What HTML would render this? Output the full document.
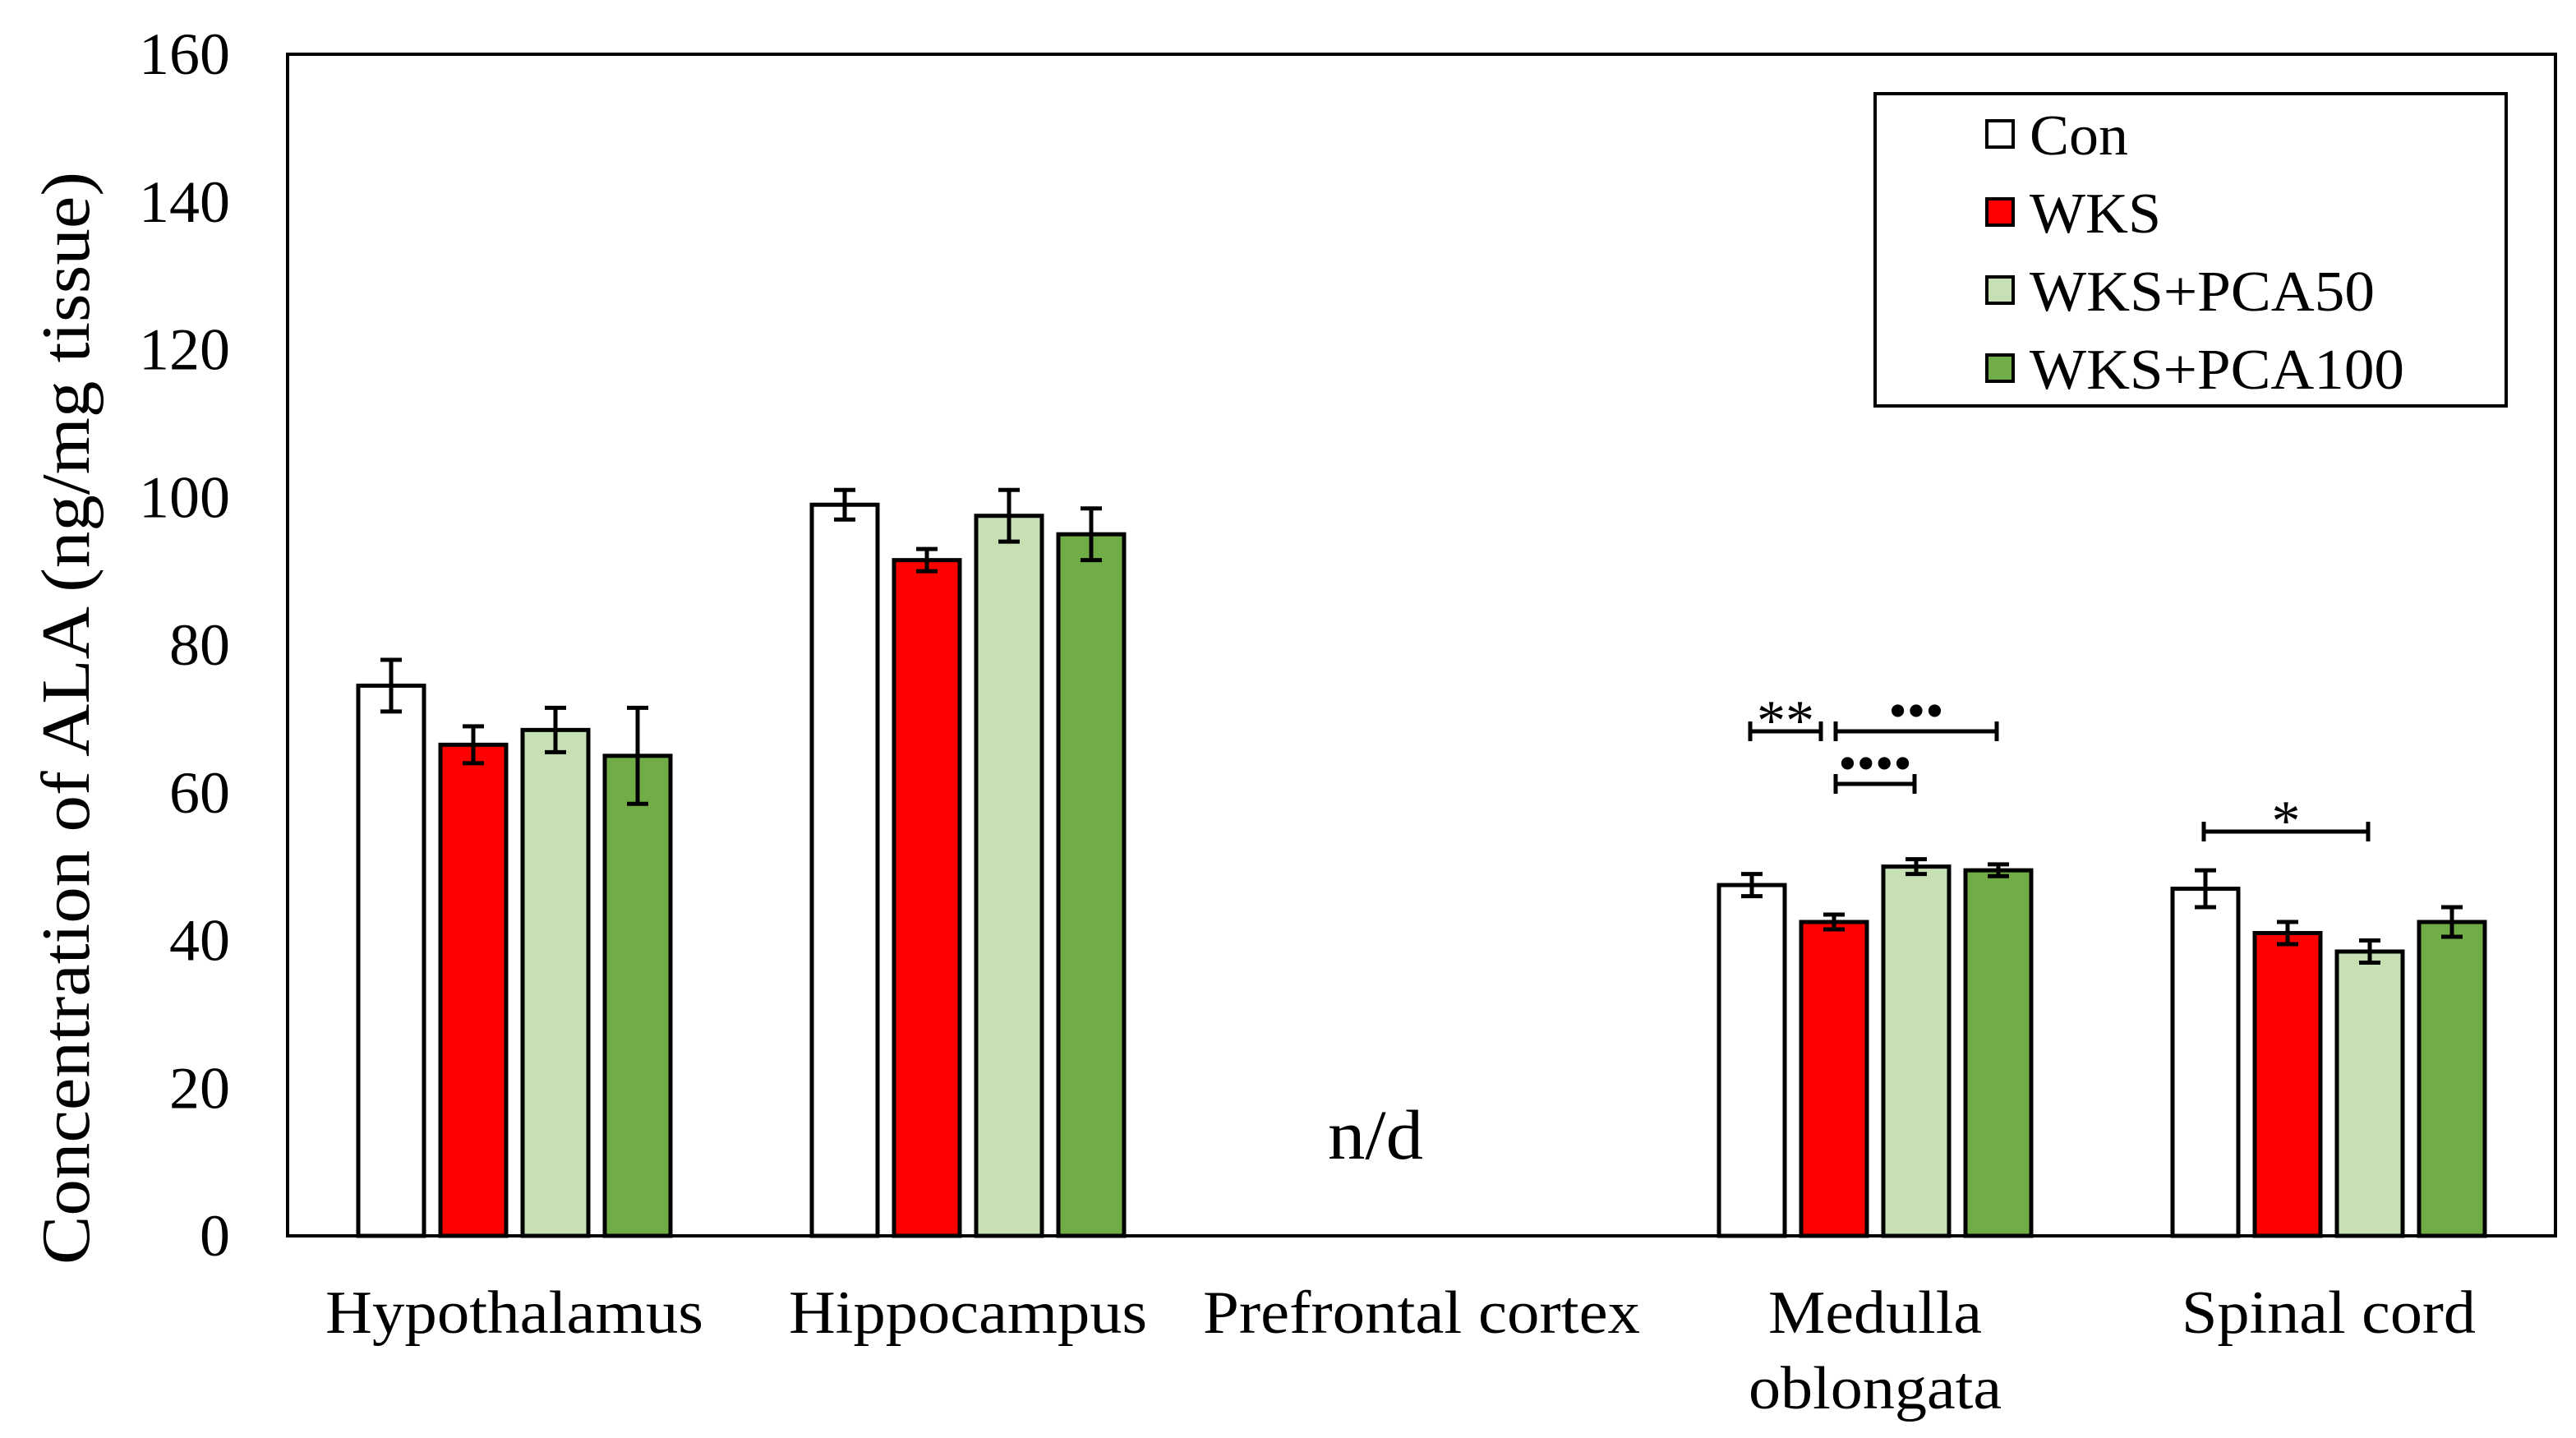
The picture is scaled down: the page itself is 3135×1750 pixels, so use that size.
<!DOCTYPE html>
<html><head><meta charset="utf-8"><style>
html,body{margin:0;padding:0;background:#fff;}
svg{display:block;font-family:"Liberation Serif",serif;}
</style></head><body>
<svg id="chart" width="3135" height="1750" viewBox="0 0 3135 1750" xmlns="http://www.w3.org/2000/svg"></svg>
<script>
const categories = ["Hypothalamus","Hippocampus","Prefrontal cortex","Medulla|oblongata","Spinal cord"];
const seriesNames = ["Con","WKS","WKS+PCA50","WKS+PCA100"];
const conVals = [74.5, 99, null, 47.5, 47];
const wksVals = [66.5, 91.5, null, 42.5, 41];
const pca50Vals = [68.5, 97.5, null, 50, 38.5];
const pca100Vals = [65, 95, null, 49.5, 42.5];
const conErr = [3.5, 2, null, 1.5, 2.5];
const wksErr = [2.5, 1.5, null, 1, 1.5];
const pca50Err = [3, 3.5, null, 1, 1.5];
const pca100Err = [6.5, 3.5, null, 0.8, 2];
const yTicks = [0,20,40,60,80,100,120,140,160];

const colors = ["#ffffff","#ff0000","#c6e0b4","#70ad47"];
const allVals = [conVals, wksVals, pca50Vals, pca100Vals];
const allErr = [conErr, wksErr, pca50Err, pca100Err];
const NS = "http://www.w3.org/2000/svg";
const svg = document.getElementById("chart");
const L=350, R=3110, T=66, B=1504, YMAX=160;
const groupW=(R-L)/categories.length;
function y(v){return B-(v/YMAX)*(B-T);}
function barX(g,s){return L+g*groupW+86+s*100;}
function mk(tag,attrs,parent){const e=document.createElementNS(NS,tag);for(const k in attrs)e.setAttribute(k,attrs[k]);(parent||svg).appendChild(e);return e;}
function textW(label){return label.length;}

// y ticks
yTicks.forEach(t=>{
  const s=String(t);
  const tx=mk("text",{x:280,y:y(t)+24,"text-anchor":"end","font-size":72,fill:"#000",textLength:s.length*37,lengthAdjust:"spacingAndGlyphs"});
  tx.textContent=s;
  
  
});
// y title
const yt=mk("text",{x:0,y:0,transform:"translate(108,874) rotate(-90)","text-anchor":"middle","font-size":84,fill:"#000",textLength:1330,lengthAdjust:"spacingAndGlyphs"});
yt.textContent="Concentration of ALA (ng/mg tissue)";



// bars
for(let s=0;s<4;s++){
  for(let g=0;g<categories.length;g++){
    const v=allVals[s][g]; if(v==null) continue;
    const x=barX(g,s);
    const r=mk("rect",{x:x,y:y(v),width:80,height:B-y(v),fill:colors[s],stroke:"#000","stroke-width":5});
    
    
    const e=allErr[s][g], cx=x+40;
    const eg=mk("g",{stroke:"#000","stroke-width":5});
    
    
    mk("line",{x1:cx,x2:cx,y1:y(v+e),y2:y(v-e)},eg);
    mk("line",{x1:cx-13,x2:cx+13,y1:y(v+e),y2:y(v+e)},eg);
    mk("line",{x1:cx-13,x2:cx+13,y1:y(v-e),y2:y(v-e)},eg);
  }
}
// frame
const fr=mk("rect",{x:L,y:T,width:R-L,height:B-T,fill:"none",stroke:"#000","stroke-width":4});



// category labels
const labelLens={"Hypothalamus":460,"Hippocampus":436,"Prefrontal cortex":532,"Medulla":260,"oblongata":308,"Spinal cord":358};
categories.forEach((c,g)=>{
  const cx=L+g*groupW+groupW/2;
  c.split("|").forEach((line,i)=>{
    const t=mk("text",{x:cx,y:1622+i*92,"text-anchor":"middle","font-size":74,fill:"#000",textLength:labelLens[line]||line.length*30,lengthAdjust:"spacingAndGlyphs"});
    t.textContent=line;
    
    
  });
});
const nd=mk("text",{x:1674,y:1410,"text-anchor":"middle","font-size":86,fill:"#000",textLength:116,lengthAdjust:"spacingAndGlyphs"});
nd.textContent="n/d";



// significance brackets
function bracket(x1,x2,yy,label,name,dy,fs){
  const g=mk("g",{stroke:"#000","stroke-width":5});
  
  
  mk("line",{x1:x1,x2:x2,y1:yy,y2:yy},g);
  mk("line",{x1:x1,x2:x1,y1:yy-12,y2:yy+12},g);
  mk("line",{x1:x2,x2:x2,y1:yy-12,y2:yy+12},g);
  const t=mk("text",{x:(x1+x2)/2,y:yy+dy,"text-anchor":"middle","font-size":fs,fill:"#000",stroke:"none"},g);
  t.textContent=label;
}
bracket(2130,2216,890,"**","sig-bracket-con-wks",10,70);
bracket(2234,2430,890,"•••","sig-bracket-wks-pca100",-4,64);
bracket(2234,2330,954,"••••","sig-bracket-wks-pca50",-4,64);
bracket(2682,2882,1012,"*","sig-bracket-spinal",10,70);

// legend
const legLens=[120,160,420,456];
const lg=mk("g",{});


mk("rect",{x:2282,y:114,width:768,height:380,fill:"#fff",stroke:"#000","stroke-width":4},lg);
seriesNames.forEach((n,i)=>{
  const yy=164+i*95;
  const e=mk("g",{},lg);
  
  
  mk("rect",{x:2418,y:yy-17,width:32,height:32,fill:colors[i],stroke:"#000","stroke-width":4},e);
  const t=mk("text",{x:2470,y:yy+24,"font-size":70,fill:"#000",textLength:legLens[i],lengthAdjust:"spacingAndGlyphs"},e);
  t.textContent=n;
});
</script>
</body></html>
